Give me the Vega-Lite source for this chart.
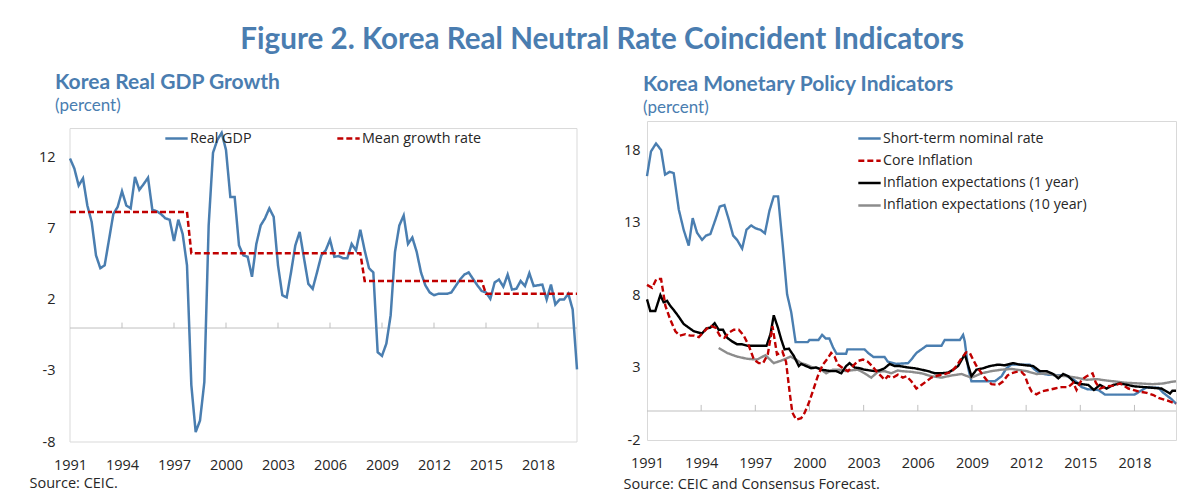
{
"$schema": "https://vega.github.io/schema/vega-lite/v6.json",
"padding": {"left": 29, "top": 25, "right": 8, "bottom": 3},
"background": "white",
"title": {"text": "Figure 2. Korea Real Neutral Rate Coincident Indicators", "font": "Lato", "fontSize": 29.6, "fontWeight": "bold", "color": "#4A7DB0", "anchor": "middle", "offset": 16, "dx": -3},
"config": {"view": {"stroke": "#D9D9D9", "strokeWidth": 1}, "font": "Open Sans"},
"spacing": 40,
"resolve": {"scale": {"x": "independent", "y": "independent", "color": "independent", "strokeDash": "independent"}, "legend": {"color": "independent", "strokeDash": "independent"}},
"datasets": {
"gdp": [
{"year":1991,"value":11.9,"series":"Real GDP"},{"year":1991.25,"value":11.2,"series":"Real GDP"},{"year":1991.5,"value":10.0,"series":"Real GDP"},{"year":1991.75,"value":10.5,"series":"Real GDP"},
{"year":1992,"value":8.6,"series":"Real GDP"},{"year":1992.25,"value":7.45,"series":"Real GDP"},{"year":1992.5,"value":5.1,"series":"Real GDP"},{"year":1992.75,"value":4.2,"series":"Real GDP"},
{"year":1993,"value":4.4,"series":"Real GDP"},{"year":1993.25,"value":6.2,"series":"Real GDP"},{"year":1993.5,"value":8.0,"series":"Real GDP"},{"year":1993.75,"value":8.5,"series":"Real GDP"},
{"year":1994,"value":9.6,"series":"Real GDP"},{"year":1994.25,"value":8.6,"series":"Real GDP"},{"year":1994.5,"value":8.4,"series":"Real GDP"},{"year":1994.75,"value":10.6,"series":"Real GDP"},
{"year":1995,"value":9.7,"series":"Real GDP"},{"year":1995.25,"value":10.1,"series":"Real GDP"},{"year":1995.5,"value":10.55,"series":"Real GDP"},{"year":1995.75,"value":8.3,"series":"Real GDP"},
{"year":1996,"value":8.2,"series":"Real GDP"},{"year":1996.25,"value":8.0,"series":"Real GDP"},{"year":1996.5,"value":7.7,"series":"Real GDP"},{"year":1996.75,"value":7.6,"series":"Real GDP"},
{"year":1997,"value":6.1,"series":"Real GDP"},{"year":1997.25,"value":7.6,"series":"Real GDP"},{"year":1997.5,"value":6.6,"series":"Real GDP"},{"year":1997.75,"value":4.4,"series":"Real GDP"},
{"year":1998,"value":-4.0,"series":"Real GDP"},{"year":1998.25,"value":-7.3,"series":"Real GDP"},{"year":1998.5,"value":-6.5,"series":"Real GDP"},{"year":1998.75,"value":-3.8,"series":"Real GDP"},
{"year":1999,"value":7.2,"series":"Real GDP"},{"year":1999.25,"value":12.3,"series":"Real GDP"},{"year":1999.5,"value":13.2,"series":"Real GDP"},{"year":1999.75,"value":13.7,"series":"Real GDP"},
{"year":2000,"value":12.5,"series":"Real GDP"},{"year":2000.25,"value":9.2,"series":"Real GDP"},{"year":2000.5,"value":9.2,"series":"Real GDP"},{"year":2000.75,"value":5.8,"series":"Real GDP"},
{"year":2001,"value":5.1,"series":"Real GDP"},{"year":2001.25,"value":5.0,"series":"Real GDP"},{"year":2001.5,"value":3.6,"series":"Real GDP"},{"year":2001.75,"value":5.9,"series":"Real GDP"},
{"year":2002,"value":7.2,"series":"Real GDP"},{"year":2002.25,"value":7.7,"series":"Real GDP"},{"year":2002.5,"value":8.4,"series":"Real GDP"},{"year":2002.75,"value":7.8,"series":"Real GDP"},
{"year":2003,"value":4.4,"series":"Real GDP"},{"year":2003.25,"value":2.3,"series":"Real GDP"},{"year":2003.5,"value":2.15,"series":"Real GDP"},{"year":2003.75,"value":3.9,"series":"Real GDP"},
{"year":2004,"value":5.8,"series":"Real GDP"},{"year":2004.25,"value":6.75,"series":"Real GDP"},{"year":2004.5,"value":4.9,"series":"Real GDP"},{"year":2004.75,"value":3.1,"series":"Real GDP"},
{"year":2005,"value":2.75,"series":"Real GDP"},{"year":2005.25,"value":3.9,"series":"Real GDP"},{"year":2005.5,"value":5.1,"series":"Real GDP"},{"year":2005.75,"value":5.45,"series":"Real GDP"},
{"year":2006,"value":6.2,"series":"Real GDP"},{"year":2006.25,"value":5.0,"series":"Real GDP"},{"year":2006.5,"value":5.05,"series":"Real GDP"},{"year":2006.75,"value":4.9,"series":"Real GDP"},
{"year":2007,"value":4.9,"series":"Real GDP"},{"year":2007.25,"value":5.9,"series":"Real GDP"},{"year":2007.5,"value":5.45,"series":"Real GDP"},{"year":2007.75,"value":6.9,"series":"Real GDP"},
{"year":2008,"value":5.45,"series":"Real GDP"},{"year":2008.25,"value":4.2,"series":"Real GDP"},{"year":2008.5,"value":3.9,"series":"Real GDP"},{"year":2008.75,"value":-1.7,"series":"Real GDP"},
{"year":2009,"value":-1.95,"series":"Real GDP"},{"year":2009.25,"value":-1.1,"series":"Real GDP"},{"year":2009.5,"value":0.9,"series":"Real GDP"},{"year":2009.75,"value":5.35,"series":"Real GDP"},
{"year":2010,"value":7.2,"series":"Real GDP"},{"year":2010.25,"value":7.9,"series":"Real GDP"},{"year":2010.5,"value":5.9,"series":"Real GDP"},{"year":2010.75,"value":6.35,"series":"Real GDP"},
{"year":2011,"value":5.35,"series":"Real GDP"},{"year":2011.25,"value":3.9,"series":"Real GDP"},{"year":2011.5,"value":3.0,"series":"Real GDP"},{"year":2011.75,"value":2.5,"series":"Real GDP"},
{"year":2012,"value":2.3,"series":"Real GDP"},{"year":2012.25,"value":2.4,"series":"Real GDP"},{"year":2012.5,"value":2.4,"series":"Real GDP"},{"year":2012.75,"value":2.4,"series":"Real GDP"},
{"year":2013,"value":2.5,"series":"Real GDP"},{"year":2013.25,"value":2.95,"series":"Real GDP"},{"year":2013.5,"value":3.4,"series":"Real GDP"},{"year":2013.75,"value":3.75,"series":"Real GDP"},
{"year":2014,"value":3.9,"series":"Real GDP"},{"year":2014.25,"value":3.45,"series":"Real GDP"},{"year":2014.5,"value":3.0,"series":"Real GDP"},{"year":2014.75,"value":2.6,"series":"Real GDP"},
{"year":2015,"value":2.5,"series":"Real GDP"},{"year":2015.25,"value":2.05,"series":"Real GDP"},{"year":2015.5,"value":3.2,"series":"Real GDP"},{"year":2015.75,"value":3.4,"series":"Real GDP"},
{"year":2016,"value":2.9,"series":"Real GDP"},{"year":2016.25,"value":3.75,"series":"Real GDP"},{"year":2016.5,"value":2.7,"series":"Real GDP"},{"year":2016.75,"value":2.75,"series":"Real GDP"},
{"year":2017,"value":3.3,"series":"Real GDP"},{"year":2017.25,"value":2.95,"series":"Real GDP"},{"year":2017.5,"value":3.85,"series":"Real GDP"},{"year":2017.75,"value":2.95,"series":"Real GDP"},
{"year":2018,"value":3.0,"series":"Real GDP"},{"year":2018.25,"value":3.05,"series":"Real GDP"},{"year":2018.5,"value":2.0,"series":"Real GDP"},{"year":2018.75,"value":3.05,"series":"Real GDP"},
{"year":2019,"value":1.65,"series":"Real GDP"},{"year":2019.25,"value":2.0,"series":"Real GDP"},{"year":2019.5,"value":2.0,"series":"Real GDP"},{"year":2019.75,"value":2.4,"series":"Real GDP"},
{"year":2020,"value":1.3,"series":"Real GDP"},{"year":2020.25,"value":-2.9,"series":"Real GDP"},
{"year":1991,"value":8.15,"series":"Mean growth rate"},{"year":1997.75,"value":8.15,"series":"Mean growth rate"},
{"year":1998,"value":5.25,"series":"Mean growth rate"},{"year":2007.75,"value":5.25,"series":"Mean growth rate"},
{"year":2008,"value":3.3,"series":"Mean growth rate"},{"year":2014.75,"value":3.3,"series":"Mean growth rate"},
{"year":2015,"value":2.4,"series":"Mean growth rate"},{"year":2020.25,"value":2.4,"series":"Mean growth rate"}
],
"rates": [
{"year":1991.0,"value":16.2,"series":"Short-term nominal rate"},{"year":1991.22,"value":17.9,"series":"Short-term nominal rate"},{"year":1991.5,"value":18.45,"series":"Short-term nominal rate"},{"year":1991.78,"value":18.0,"series":"Short-term nominal rate"},
{"year":1992.0,"value":16.3,"series":"Short-term nominal rate"},{"year":1992.26,"value":16.5,"series":"Short-term nominal rate"},{"year":1992.48,"value":16.4,"series":"Short-term nominal rate"},{"year":1992.76,"value":13.9,"series":"Short-term nominal rate"},
{"year":1993.03,"value":12.5,"series":"Short-term nominal rate"},{"year":1993.31,"value":11.4,"series":"Short-term nominal rate"},{"year":1993.53,"value":13.3,"series":"Short-term nominal rate"},{"year":1993.77,"value":12.3,"series":"Short-term nominal rate"},
{"year":1994.05,"value":11.8,"series":"Short-term nominal rate"},{"year":1994.27,"value":12.1,"series":"Short-term nominal rate"},{"year":1994.51,"value":12.2,"series":"Short-term nominal rate"},{"year":1994.79,"value":13.2,"series":"Short-term nominal rate"},
{"year":1995.03,"value":14.1,"series":"Short-term nominal rate"},{"year":1995.29,"value":14.2,"series":"Short-term nominal rate"},{"year":1995.53,"value":13.2,"series":"Short-term nominal rate"},{"year":1995.77,"value":12.1,"series":"Short-term nominal rate"},
{"year":1995.99,"value":11.8,"series":"Short-term nominal rate"},{"year":1996.27,"value":11.2,"series":"Short-term nominal rate"},{"year":1996.51,"value":12.5,"series":"Short-term nominal rate"},{"year":1996.77,"value":12.8,"series":"Short-term nominal rate"},
{"year":1997.01,"value":12.6,"series":"Short-term nominal rate"},{"year":1997.28,"value":12.5,"series":"Short-term nominal rate"},{"year":1997.53,"value":12.25,"series":"Short-term nominal rate"},{"year":1997.78,"value":13.8,"series":"Short-term nominal rate"},
{"year":1998.02,"value":14.8,"series":"Short-term nominal rate"},{"year":1998.26,"value":14.8,"series":"Short-term nominal rate"},{"year":1998.52,"value":11.4,"series":"Short-term nominal rate"},{"year":1998.76,"value":8.05,"series":"Short-term nominal rate"},
{"year":1998.99,"value":6.8,"series":"Short-term nominal rate"},{"year":1999.23,"value":4.75,"series":"Short-term nominal rate"},{"year":1999.9,"value":4.75,"series":"Short-term nominal rate"},{"year":2000.0,"value":4.9,"series":"Short-term nominal rate"},
{"year":2000.5,"value":4.9,"series":"Short-term nominal rate"},{"year":2000.7,"value":5.25,"series":"Short-term nominal rate"},{"year":2000.9,"value":5.0,"series":"Short-term nominal rate"},{"year":2001.1,"value":5.0,"series":"Short-term nominal rate"},
{"year":2001.3,"value":4.4,"series":"Short-term nominal rate"},{"year":2001.5,"value":3.95,"series":"Short-term nominal rate"},{"year":2002.03,"value":3.95,"series":"Short-term nominal rate"},{"year":2002.1,"value":4.25,"series":"Short-term nominal rate"},
{"year":2003.05,"value":4.25,"series":"Short-term nominal rate"},{"year":2003.25,"value":4.0,"series":"Short-term nominal rate"},{"year":2003.55,"value":3.72,"series":"Short-term nominal rate"},{"year":2004.16,"value":3.72,"series":"Short-term nominal rate"},
{"year":2004.34,"value":3.4,"series":"Short-term nominal rate"},{"year":2004.8,"value":3.25,"series":"Short-term nominal rate"},{"year":2005.46,"value":3.3,"series":"Short-term nominal rate"},{"year":2005.64,"value":3.55,"series":"Short-term nominal rate"},
{"year":2005.92,"value":4.0,"series":"Short-term nominal rate"},{"year":2006.2,"value":4.25,"series":"Short-term nominal rate"},{"year":2006.48,"value":4.5,"series":"Short-term nominal rate"},{"year":2007.31,"value":4.5,"series":"Short-term nominal rate"},
{"year":2007.49,"value":4.9,"series":"Short-term nominal rate"},{"year":2008.33,"value":4.9,"series":"Short-term nominal rate"},{"year":2008.51,"value":5.25,"series":"Short-term nominal rate"},{"year":2008.6,"value":4.8,"series":"Short-term nominal rate"},
{"year":2008.79,"value":2.95,"series":"Short-term nominal rate"},{"year":2008.97,"value":2.05,"series":"Short-term nominal rate"},{"year":2010.27,"value":2.05,"series":"Short-term nominal rate"},{"year":2010.64,"value":2.4,"series":"Short-term nominal rate"},
{"year":2010.91,"value":2.95,"series":"Short-term nominal rate"},{"year":2011.19,"value":3.2,"series":"Short-term nominal rate"},{"year":2012.2,"value":3.2,"series":"Short-term nominal rate"},{"year":2012.48,"value":2.85,"series":"Short-term nominal rate"},
{"year":2012.76,"value":2.6,"series":"Short-term nominal rate"},{"year":2013.22,"value":2.5,"series":"Short-term nominal rate"},{"year":2014.2,"value":2.45,"series":"Short-term nominal rate"},{"year":2014.6,"value":2.2,"series":"Short-term nominal rate"},
{"year":2014.85,"value":1.95,"series":"Short-term nominal rate"},{"year":2015.07,"value":1.65,"series":"Short-term nominal rate"},{"year":2015.4,"value":1.5,"series":"Short-term nominal rate"},{"year":2016.0,"value":1.45,"series":"Short-term nominal rate"},
{"year":2016.37,"value":1.13,"series":"Short-term nominal rate"},{"year":2018.0,"value":1.13,"series":"Short-term nominal rate"},{"year":2018.31,"value":1.36,"series":"Short-term nominal rate"},{"year":2018.68,"value":1.63,"series":"Short-term nominal rate"},
{"year":2019.33,"value":1.6,"series":"Short-term nominal rate"},{"year":2019.6,"value":1.25,"series":"Short-term nominal rate"},{"year":2020.07,"value":0.8,"series":"Short-term nominal rate"},{"year":2020.3,"value":0.5,"series":"Short-term nominal rate"},
{"year":1994.97,"value":4.35,"series":"Inflation expectations (10 year)"},{"year":1995.44,"value":4.0,"series":"Inflation expectations (10 year)"},{"year":1995.99,"value":3.75,"series":"Inflation expectations (10 year)"},{"year":1996.55,"value":3.6,"series":"Inflation expectations (10 year)"},
{"year":1997.1,"value":3.55,"series":"Inflation expectations (10 year)"},{"year":1997.56,"value":3.85,"series":"Inflation expectations (10 year)"},{"year":1998.02,"value":3.3,"series":"Inflation expectations (10 year)"},{"year":1998.49,"value":3.5,"series":"Inflation expectations (10 year)"},
{"year":1998.95,"value":3.75,"series":"Inflation expectations (10 year)"},{"year":1999.26,"value":3.55,"series":"Inflation expectations (10 year)"},{"year":1999.54,"value":3.3,"series":"Inflation expectations (10 year)"},{"year":1999.81,"value":3.2,"series":"Inflation expectations (10 year)"},
{"year":2000.18,"value":3.0,"series":"Inflation expectations (10 year)"},{"year":2000.55,"value":2.95,"series":"Inflation expectations (10 year)"},{"year":2000.92,"value":2.6,"series":"Inflation expectations (10 year)"},{"year":2001.29,"value":2.85,"series":"Inflation expectations (10 year)"},
{"year":2001.66,"value":2.85,"series":"Inflation expectations (10 year)"},{"year":2002.03,"value":2.75,"series":"Inflation expectations (10 year)"},{"year":2002.31,"value":2.8,"series":"Inflation expectations (10 year)"},{"year":2002.68,"value":2.85,"series":"Inflation expectations (10 year)"},
{"year":2003.05,"value":2.6,"series":"Inflation expectations (10 year)"},{"year":2003.42,"value":2.3,"series":"Inflation expectations (10 year)"},{"year":2003.79,"value":2.7,"series":"Inflation expectations (10 year)"},{"year":2004.16,"value":2.75,"series":"Inflation expectations (10 year)"},
{"year":2004.53,"value":2.6,"series":"Inflation expectations (10 year)"},{"year":2004.9,"value":2.8,"series":"Inflation expectations (10 year)"},{"year":2005.09,"value":2.75,"series":"Inflation expectations (10 year)"},{"year":2005.64,"value":2.7,"series":"Inflation expectations (10 year)"},
{"year":2006.2,"value":2.6,"series":"Inflation expectations (10 year)"},{"year":2006.75,"value":2.4,"series":"Inflation expectations (10 year)"},{"year":2007.31,"value":2.3,"series":"Inflation expectations (10 year)"},{"year":2007.86,"value":2.45,"series":"Inflation expectations (10 year)"},
{"year":2008.42,"value":2.55,"series":"Inflation expectations (10 year)"},{"year":2008.97,"value":2.3,"series":"Inflation expectations (10 year)"},{"year":2009.53,"value":2.6,"series":"Inflation expectations (10 year)"},{"year":2010.08,"value":2.75,"series":"Inflation expectations (10 year)"},
{"year":2010.64,"value":2.85,"series":"Inflation expectations (10 year)"},{"year":2011.19,"value":2.9,"series":"Inflation expectations (10 year)"},{"year":2011.46,"value":2.85,"series":"Inflation expectations (10 year)"},{"year":2012.02,"value":2.75,"series":"Inflation expectations (10 year)"},
{"year":2012.57,"value":2.55,"series":"Inflation expectations (10 year)"},{"year":2013.13,"value":2.6,"series":"Inflation expectations (10 year)"},{"year":2013.68,"value":2.45,"series":"Inflation expectations (10 year)"},{"year":2014.24,"value":2.4,"series":"Inflation expectations (10 year)"},
{"year":2014.79,"value":2.3,"series":"Inflation expectations (10 year)"},{"year":2015.35,"value":2.15,"series":"Inflation expectations (10 year)"},{"year":2015.9,"value":2.2,"series":"Inflation expectations (10 year)"},{"year":2016.46,"value":2.1,"series":"Inflation expectations (10 year)"},
{"year":2016.83,"value":2.05,"series":"Inflation expectations (10 year)"},{"year":2017.5,"value":1.95,"series":"Inflation expectations (10 year)"},{"year":2018.3,"value":1.9,"series":"Inflation expectations (10 year)"},{"year":2019.0,"value":1.85,"series":"Inflation expectations (10 year)"},
{"year":2019.6,"value":1.9,"series":"Inflation expectations (10 year)"},{"year":2020.0,"value":2.0,"series":"Inflation expectations (10 year)"},{"year":2020.3,"value":2.05,"series":"Inflation expectations (10 year)"},
{"year":1991.0,"value":7.7,"series":"Inflation expectations (1 year)"},{"year":1991.18,"value":6.9,"series":"Inflation expectations (1 year)"},{"year":1991.46,"value":6.9,"series":"Inflation expectations (1 year)"},{"year":1991.74,"value":8.0,"series":"Inflation expectations (1 year)"},
{"year":1991.92,"value":7.5,"series":"Inflation expectations (1 year)"},{"year":1992.11,"value":7.6,"series":"Inflation expectations (1 year)"},{"year":1992.29,"value":7.25,"series":"Inflation expectations (1 year)"},{"year":1992.52,"value":6.9,"series":"Inflation expectations (1 year)"},
{"year":1992.76,"value":6.5,"series":"Inflation expectations (1 year)"},{"year":1993.03,"value":6.0,"series":"Inflation expectations (1 year)"},{"year":1993.31,"value":5.75,"series":"Inflation expectations (1 year)"},{"year":1993.59,"value":5.5,"series":"Inflation expectations (1 year)"},
{"year":1993.87,"value":5.4,"series":"Inflation expectations (1 year)"},{"year":1994.05,"value":5.35,"series":"Inflation expectations (1 year)"},{"year":1994.29,"value":5.7,"series":"Inflation expectations (1 year)"},{"year":1994.51,"value":5.75,"series":"Inflation expectations (1 year)"},
{"year":1994.75,"value":6.05,"series":"Inflation expectations (1 year)"},{"year":1994.97,"value":5.6,"series":"Inflation expectations (1 year)"},{"year":1995.21,"value":5.6,"series":"Inflation expectations (1 year)"},{"year":1995.44,"value":5.05,"series":"Inflation expectations (1 year)"},
{"year":1995.71,"value":4.8,"series":"Inflation expectations (1 year)"},{"year":1995.99,"value":4.6,"series":"Inflation expectations (1 year)"},{"year":1996.27,"value":4.6,"series":"Inflation expectations (1 year)"},{"year":1996.55,"value":4.5,"series":"Inflation expectations (1 year)"},
{"year":1997.1,"value":4.5,"series":"Inflation expectations (1 year)"},{"year":1997.62,"value":4.5,"series":"Inflation expectations (1 year)"},{"year":1997.84,"value":5.3,"series":"Inflation expectations (1 year)"},{"year":1998.02,"value":6.6,"series":"Inflation expectations (1 year)"},
{"year":1998.25,"value":5.75,"series":"Inflation expectations (1 year)"},{"year":1998.43,"value":4.95,"series":"Inflation expectations (1 year)"},{"year":1998.62,"value":4.25,"series":"Inflation expectations (1 year)"},{"year":1998.86,"value":4.3,"series":"Inflation expectations (1 year)"},
{"year":1999.13,"value":3.8,"series":"Inflation expectations (1 year)"},{"year":1999.41,"value":3.1,"series":"Inflation expectations (1 year)"},{"year":1999.54,"value":3.25,"series":"Inflation expectations (1 year)"},{"year":1999.81,"value":3.1,"series":"Inflation expectations (1 year)"},
{"year":2000.09,"value":2.95,"series":"Inflation expectations (1 year)"},{"year":2000.37,"value":3.0,"series":"Inflation expectations (1 year)"},{"year":2000.65,"value":2.85,"series":"Inflation expectations (1 year)"},{"year":2000.92,"value":2.8,"series":"Inflation expectations (1 year)"},
{"year":2001.2,"value":2.75,"series":"Inflation expectations (1 year)"},{"year":2001.48,"value":2.75,"series":"Inflation expectations (1 year)"},{"year":2001.76,"value":2.6,"series":"Inflation expectations (1 year)"},{"year":2002.03,"value":3.1,"series":"Inflation expectations (1 year)"},
{"year":2002.22,"value":3.3,"series":"Inflation expectations (1 year)"},{"year":2002.5,"value":3.0,"series":"Inflation expectations (1 year)"},{"year":2002.77,"value":2.95,"series":"Inflation expectations (1 year)"},{"year":2003.05,"value":2.85,"series":"Inflation expectations (1 year)"},
{"year":2003.33,"value":2.8,"series":"Inflation expectations (1 year)"},{"year":2003.6,"value":2.75,"series":"Inflation expectations (1 year)"},{"year":2003.88,"value":2.8,"series":"Inflation expectations (1 year)"},{"year":2004.16,"value":2.95,"series":"Inflation expectations (1 year)"},
{"year":2004.44,"value":3.25,"series":"Inflation expectations (1 year)"},{"year":2004.71,"value":3.1,"series":"Inflation expectations (1 year)"},{"year":2004.99,"value":3.1,"series":"Inflation expectations (1 year)"},{"year":2005.46,"value":3.0,"series":"Inflation expectations (1 year)"},
{"year":2005.83,"value":2.95,"series":"Inflation expectations (1 year)"},{"year":2006.2,"value":2.85,"series":"Inflation expectations (1 year)"},{"year":2006.57,"value":2.75,"series":"Inflation expectations (1 year)"},{"year":2006.94,"value":2.6,"series":"Inflation expectations (1 year)"},
{"year":2007.31,"value":2.6,"series":"Inflation expectations (1 year)"},{"year":2007.68,"value":2.65,"series":"Inflation expectations (1 year)"},{"year":2007.96,"value":2.85,"series":"Inflation expectations (1 year)"},{"year":2008.23,"value":3.1,"series":"Inflation expectations (1 year)"},
{"year":2008.6,"value":3.9,"series":"Inflation expectations (1 year)"},{"year":2008.75,"value":3.3,"series":"Inflation expectations (1 year)"},{"year":2008.97,"value":2.4,"series":"Inflation expectations (1 year)"},{"year":2009.25,"value":2.85,"series":"Inflation expectations (1 year)"},
{"year":2009.62,"value":2.95,"series":"Inflation expectations (1 year)"},{"year":2009.99,"value":3.1,"series":"Inflation expectations (1 year)"},{"year":2010.45,"value":3.2,"series":"Inflation expectations (1 year)"},{"year":2010.82,"value":3.15,"series":"Inflation expectations (1 year)"},
{"year":2011.28,"value":3.3,"series":"Inflation expectations (1 year)"},{"year":2011.65,"value":3.2,"series":"Inflation expectations (1 year)"},{"year":2012.02,"value":3.15,"series":"Inflation expectations (1 year)"},{"year":2012.39,"value":3.1,"series":"Inflation expectations (1 year)"},
{"year":2012.76,"value":2.75,"series":"Inflation expectations (1 year)"},{"year":2013.13,"value":2.75,"series":"Inflation expectations (1 year)"},{"year":2013.5,"value":2.55,"series":"Inflation expectations (1 year)"},{"year":2013.78,"value":2.25,"series":"Inflation expectations (1 year)"},
{"year":2014.05,"value":2.55,"series":"Inflation expectations (1 year)"},{"year":2014.33,"value":2.4,"series":"Inflation expectations (1 year)"},{"year":2014.7,"value":1.95,"series":"Inflation expectations (1 year)"},{"year":2015.07,"value":1.85,"series":"Inflation expectations (1 year)"},
{"year":2015.44,"value":1.8,"series":"Inflation expectations (1 year)"},{"year":2015.75,"value":1.45,"series":"Inflation expectations (1 year)"},{"year":2016.09,"value":1.8,"series":"Inflation expectations (1 year)"},{"year":2016.45,"value":1.55,"series":"Inflation expectations (1 year)"},
{"year":2016.83,"value":1.8,"series":"Inflation expectations (1 year)"},{"year":2017.2,"value":1.9,"series":"Inflation expectations (1 year)"},{"year":2017.6,"value":1.8,"series":"Inflation expectations (1 year)"},{"year":2018.0,"value":1.7,"series":"Inflation expectations (1 year)"},
{"year":2018.5,"value":1.65,"series":"Inflation expectations (1 year)"},{"year":2019.0,"value":1.6,"series":"Inflation expectations (1 year)"},{"year":2019.5,"value":1.55,"series":"Inflation expectations (1 year)"},{"year":2019.97,"value":1.2,"series":"Inflation expectations (1 year)"},
{"year":2020.1,"value":1.4,"series":"Inflation expectations (1 year)"},{"year":2020.3,"value":1.4,"series":"Inflation expectations (1 year)"},
{"year":1991.0,"value":8.7,"series":"Core Inflation"},{"year":1991.28,"value":8.5,"series":"Core Inflation"},{"year":1991.52,"value":9.1,"series":"Core Inflation"},{"year":1991.78,"value":9.1,"series":"Core Inflation"},
{"year":1992.02,"value":7.25,"series":"Core Inflation"},{"year":1992.29,"value":6.3,"series":"Core Inflation"},{"year":1992.57,"value":5.5,"series":"Core Inflation"},{"year":1992.81,"value":5.2,"series":"Core Inflation"},
{"year":1993.13,"value":5.3,"series":"Core Inflation"},{"year":1993.4,"value":5.2,"series":"Core Inflation"},{"year":1993.62,"value":5.2,"series":"Core Inflation"},{"year":1993.87,"value":5.1,"series":"Core Inflation"},
{"year":1994.1,"value":5.4,"series":"Core Inflation"},{"year":1994.33,"value":5.7,"series":"Core Inflation"},{"year":1994.55,"value":5.85,"series":"Core Inflation"},{"year":1994.79,"value":5.75,"series":"Core Inflation"},
{"year":1995.03,"value":5.2,"series":"Core Inflation"},{"year":1995.29,"value":5.05,"series":"Core Inflation"},{"year":1995.53,"value":5.4,"series":"Core Inflation"},{"year":1995.81,"value":5.6,"series":"Core Inflation"},
{"year":1996.08,"value":5.6,"series":"Core Inflation"},{"year":1996.36,"value":5.2,"series":"Core Inflation"},{"year":1996.64,"value":4.5,"series":"Core Inflation"},{"year":1996.92,"value":3.55,"series":"Core Inflation"},
{"year":1997.19,"value":3.3,"series":"Core Inflation"},{"year":1997.43,"value":3.3,"series":"Core Inflation"},{"year":1997.69,"value":3.9,"series":"Core Inflation"},{"year":1997.95,"value":5.85,"series":"Core Inflation"},
{"year":1998.2,"value":3.9,"series":"Core Inflation"},{"year":1998.5,"value":4.1,"series":"Core Inflation"},{"year":1998.7,"value":3.4,"series":"Core Inflation"},{"year":1998.9,"value":1.3,"series":"Core Inflation"},
{"year":1999.05,"value":-0.1,"series":"Core Inflation"},{"year":1999.26,"value":-0.6,"series":"Core Inflation"},{"year":1999.54,"value":-0.5,"series":"Core Inflation"},{"year":1999.72,"value":-0.15,"series":"Core Inflation"},
{"year":1999.96,"value":0.55,"series":"Core Inflation"},{"year":2000.18,"value":1.35,"series":"Core Inflation"},{"year":2000.46,"value":2.4,"series":"Core Inflation"},{"year":2000.74,"value":3.2,"series":"Core Inflation"},
{"year":2001.02,"value":3.65,"series":"Core Inflation"},{"year":2001.2,"value":4.0,"series":"Core Inflation"},{"year":2001.39,"value":3.75,"series":"Core Inflation"},{"year":2001.57,"value":3.2,"series":"Core Inflation"},
{"year":2001.85,"value":2.95,"series":"Core Inflation"},{"year":2002.13,"value":2.75,"series":"Core Inflation"},{"year":2002.4,"value":3.1,"series":"Core Inflation"},{"year":2002.68,"value":3.45,"series":"Core Inflation"},
{"year":2002.96,"value":3.55,"series":"Core Inflation"},{"year":2003.23,"value":3.4,"series":"Core Inflation"},{"year":2003.47,"value":3.1,"series":"Core Inflation"},{"year":2003.7,"value":2.75,"series":"Core Inflation"},
{"year":2003.97,"value":2.4,"series":"Core Inflation"},{"year":2004.16,"value":2.15,"series":"Core Inflation"},{"year":2004.34,"value":2.4,"series":"Core Inflation"},{"year":2004.62,"value":2.3,"series":"Core Inflation"},
{"year":2004.9,"value":2.5,"series":"Core Inflation"},{"year":2005.17,"value":2.3,"series":"Core Inflation"},{"year":2005.37,"value":2.4,"series":"Core Inflation"},{"year":2005.64,"value":2.05,"series":"Core Inflation"},
{"year":2005.92,"value":1.55,"series":"Core Inflation"},{"year":2006.2,"value":1.8,"series":"Core Inflation"},{"year":2006.48,"value":2.05,"series":"Core Inflation"},{"year":2006.75,"value":2.3,"series":"Core Inflation"},
{"year":2007.12,"value":2.45,"series":"Core Inflation"},{"year":2007.49,"value":2.55,"series":"Core Inflation"},{"year":2007.86,"value":2.7,"series":"Core Inflation"},{"year":2008.14,"value":3.1,"series":"Core Inflation"},
{"year":2008.42,"value":3.65,"series":"Core Inflation"},{"year":2008.69,"value":4.05,"series":"Core Inflation"},{"year":2008.88,"value":4.0,"series":"Core Inflation"},{"year":2009.06,"value":3.55,"series":"Core Inflation"},
{"year":2009.25,"value":3.1,"series":"Core Inflation"},{"year":2009.53,"value":2.6,"series":"Core Inflation"},{"year":2009.8,"value":2.15,"series":"Core Inflation"},{"year":2010.08,"value":1.85,"series":"Core Inflation"},
{"year":2010.45,"value":1.8,"series":"Core Inflation"},{"year":2010.73,"value":2.05,"series":"Core Inflation"},{"year":2010.97,"value":2.45,"series":"Core Inflation"},{"year":2011.19,"value":2.6,"series":"Core Inflation"},
{"year":2011.46,"value":2.7,"series":"Core Inflation"},{"year":2011.74,"value":2.7,"series":"Core Inflation"},{"year":2011.93,"value":2.45,"series":"Core Inflation"},{"year":2012.11,"value":1.8,"series":"Core Inflation"},
{"year":2012.3,"value":1.35,"series":"Core Inflation"},{"year":2012.57,"value":1.15,"series":"Core Inflation"},{"year":2012.85,"value":1.35,"series":"Core Inflation"},{"year":2013.22,"value":1.45,"series":"Core Inflation"},
{"year":2013.59,"value":1.55,"series":"Core Inflation"},{"year":2013.96,"value":1.65,"series":"Core Inflation"},{"year":2014.33,"value":1.65,"series":"Core Inflation"},{"year":2014.61,"value":1.95,"series":"Core Inflation"},
{"year":2014.79,"value":1.45,"series":"Core Inflation"},{"year":2015.07,"value":2.15,"series":"Core Inflation"},{"year":2015.35,"value":2.4,"series":"Core Inflation"},{"year":2015.68,"value":2.6,"series":"Core Inflation"},
{"year":2015.86,"value":1.95,"series":"Core Inflation"},{"year":2016.09,"value":1.55,"series":"Core Inflation"},{"year":2016.45,"value":1.7,"series":"Core Inflation"},{"year":2016.83,"value":1.75,"series":"Core Inflation"},
{"year":2017.2,"value":1.9,"series":"Core Inflation"},{"year":2017.66,"value":1.55,"series":"Core Inflation"},{"year":2018.22,"value":1.35,"series":"Core Inflation"},{"year":2018.68,"value":1.25,"series":"Core Inflation"},
{"year":2019.05,"value":1.1,"series":"Core Inflation"},{"year":2019.33,"value":0.9,"series":"Core Inflation"},{"year":2019.6,"value":0.8,"series":"Core Inflation"},{"year":2019.88,"value":0.7,"series":"Core Inflation"},
{"year":2020.3,"value":0.5,"series":"Core Inflation"}
],
"ticks": [{"year":1994},{"year":1997},{"year":2000},{"year":2003},{"year":2006},{"year":2009},{"year":2012},{"year":2015},{"year":2018}],
"one": [{"name":"frame"}]
},
"hconcat": [
{
"width": 507, "height": 321,
"view": {"stroke": null},
"title": {"text": "Korea Real GDP Growth", "subtitle": "(percent)", "anchor": "start", "frame": "group", "dx": -15, "font": "Lato", "fontSize": 21, "fontWeight": "bold", "color": "#4A7DB0", "subtitleFont": "Lato", "subtitleFontSize": 17, "subtitleColor": "#4A7DB0", "subtitlePadding": 5, "offset": 7},
"layer": [
{"data": {"name": "one"}, "mark": {"type": "rect", "filled": false, "color": "#D9D9D9", "strokeWidth": 1}, "encoding": {"x": {"datum": 1991, "type": "quantitative"}, "x2": {"datum": 2020.25}, "y": {"datum": -8, "type": "quantitative"}, "y2": {"datum": 14}}},
{"data": {"name": "one"}, "mark": {"type": "rule", "color": "#BFBFBF", "strokeWidth": 1}, "encoding": {"y": {"datum": 0, "type": "quantitative"}}},
{"data": {"name": "ticks"}, "mark": {"type": "rule", "color": "#BFBFBF", "strokeWidth": 1}, "encoding": {"x": {"field": "year", "type": "quantitative"}, "y": {"datum": 0, "type": "quantitative"}, "y2": {"datum": 0.38}}},
{"data": {"name": "gdp"}, "mark": {"type": "line", "strokeWidth": 2.5},
"encoding": {
"x": {"field": "year", "type": "quantitative", "scale": {"domain": [1991, 2020.25], "nice": false, "zero": false},
  "axis": {"values": [1991,1994,1997,2000,2003,2006,2009,2012,2015,2018], "format": "d", "labelFlush": false, "labelOverlap": false, "ticks": false, "domain": false, "grid": false, "labelFont": "Open Sans", "labelFontSize": 14.5, "labelColor": "#262626", "labelPadding": 16,
  "title": "Source: CEIC.", "titleFont": "Open Sans", "titleFontSize": 14.5, "titleFontWeight": "normal", "titleColor": "#262626", "titleAnchor": "start", "titleAlign": "left", "titleBaseline": "middle", "titleX": -41, "titleY": 41}},
"y": {"field": "value", "type": "quantitative", "scale": {"domain": [-8, 14.53], "nice": false, "zero": false},
  "axis": {"values": [-8,-3,2,7,12], "labelExpr": "toString(datum.value)", "ticks": false, "domain": false, "grid": false, "labelFont": "Open Sans", "labelFontSize": 14.5, "labelColor": "#262626", "labelPadding": 15, "title": null}},
"color": {"field": "series", "type": "nominal", "scale": {"domain": ["Real GDP", "Mean growth rate"], "range": ["#4A7EB0", "#C00000"]},
  "legend": {"title": null, "orient": "none", "legendX": 94, "legendY": 5, "direction": "horizontal", "gridAlign": "none", "columnPadding": 80, "symbolType": "stroke", "symbolSize": 500, "symbolStrokeWidth": 2.5, "labelFont": "Open Sans", "labelFontSize": 14.3, "labelColor": "#262626", "labelOffset": 1, "labelLimit": 300}},
"strokeDash": {"field": "series", "type": "nominal", "scale": {"domain": ["Real GDP", "Mean growth rate"], "range": [[1, 0], [6, 3]]},
  "legend": {"title": null, "orient": "none", "legendX": 94, "legendY": 5, "direction": "horizontal", "gridAlign": "none", "columnPadding": 80, "symbolType": "stroke", "symbolSize": 500, "symbolStrokeWidth": 2.5, "labelFont": "Open Sans", "labelFontSize": 14.3, "labelColor": "#262626", "labelOffset": 1, "labelLimit": 300}}
}}
]
},
{
"width": 529, "height": 319,
"title": {"text": "Korea Monetary Policy Indicators", "subtitle": "(percent)", "anchor": "start", "frame": "group", "dx": -4, "font": "Lato", "fontSize": 21, "fontWeight": "bold", "color": "#4A7DB0", "subtitleFont": "Lato", "subtitleFontSize": 17, "subtitleColor": "#4A7DB0", "subtitlePadding": 5, "offset": 5},
"layer": [
{"data": {"name": "one"}, "mark": {"type": "rule", "color": "#BFBFBF", "strokeWidth": 1}, "encoding": {"y": {"datum": 0, "type": "quantitative"}}},
{"data": {"name": "ticks"}, "mark": {"type": "rule", "color": "#BFBFBF", "strokeWidth": 1}, "encoding": {"x": {"field": "year", "type": "quantitative"}, "y": {"datum": 0, "type": "quantitative"}, "y2": {"datum": 0.42}}},
{"data": {"name": "rates"}, "mark": {"type": "line", "strokeWidth": 2.4},
"encoding": {
"x": {"field": "year", "type": "quantitative", "scale": {"domain": [1991, 2020.3], "nice": false, "zero": false},
  "axis": {"values": [1991,1994,1997,2000,2003,2006,2009,2012,2015,2018], "format": "d", "labelFlush": false, "labelOverlap": false, "ticks": false, "domain": false, "grid": false, "labelFont": "Open Sans", "labelFontSize": 14.5, "labelColor": "#262626", "labelPadding": 16,
  "title": "Source: CEIC and Consensus Forecast.", "titleFont": "Open Sans", "titleFontSize": 14.5, "titleFontWeight": "normal", "titleColor": "#262626", "titleAnchor": "start", "titleAlign": "left", "titleBaseline": "middle", "titleX": -24, "titleY": 44}},
"y": {"field": "value", "type": "quantitative", "scale": {"domain": [-2, 20], "nice": false, "zero": false},
  "axis": {"values": [-2,3,8,13,18], "labelExpr": "toString(datum.value)", "ticks": false, "domain": false, "grid": false, "labelFont": "Open Sans", "labelFontSize": 14.5, "labelColor": "#262626", "labelPadding": 7, "title": null}},
"color": {"field": "series", "type": "nominal", "scale": {"domain": ["Short-term nominal rate", "Core Inflation", "Inflation expectations (1 year)", "Inflation expectations (10 year)"], "range": ["#4A7EB0", "#C00000", "#000000", "#8C8C8C"]},
  "legend": {"title": null, "orient": "none", "legendX": 210, "legendY": 5, "direction": "vertical", "symbolType": "stroke", "symbolSize": 500, "symbolStrokeWidth": 2.5, "rowPadding": 2.3, "labelFont": "Open Sans", "labelFontSize": 14.2, "labelColor": "#262626", "labelOffset": 1, "labelLimit": 300}},
"strokeDash": {"field": "series", "type": "nominal", "scale": {"domain": ["Short-term nominal rate", "Core Inflation", "Inflation expectations (1 year)", "Inflation expectations (10 year)"], "range": [[1, 0], [6, 3], [1, 0], [1, 0]]},
  "legend": {"title": null, "orient": "none", "legendX": 210, "legendY": 5, "direction": "vertical", "symbolType": "stroke", "symbolSize": 500, "symbolStrokeWidth": 2.5, "rowPadding": 2.3, "labelFont": "Open Sans", "labelFontSize": 14.2, "labelColor": "#262626", "labelOffset": 1, "labelLimit": 300}}
}}
]
}
]
}
